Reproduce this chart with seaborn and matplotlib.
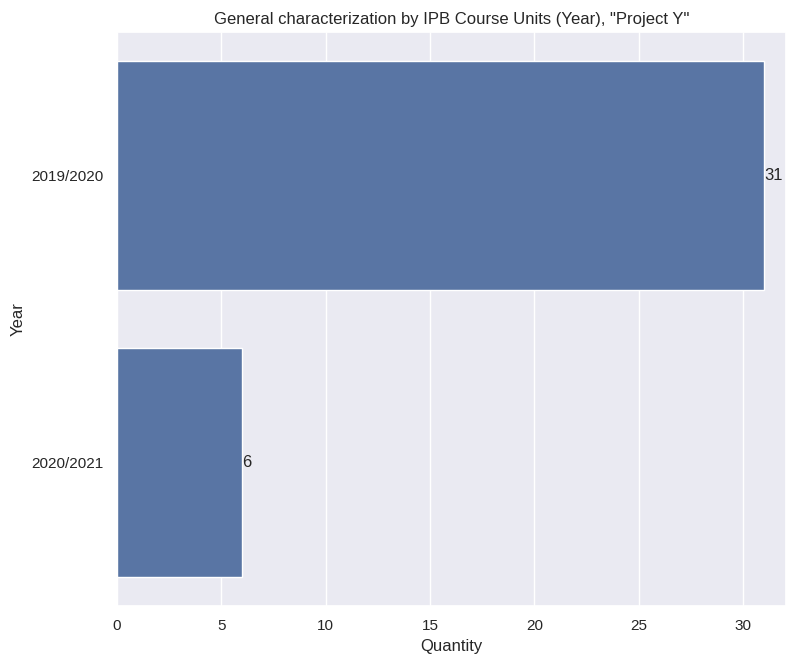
import matplotlib
matplotlib.use("Agg")
import matplotlib.pyplot as plt
import seaborn as sns
import pandas as pd

years = ["2019/2020", "2020/2021"]
quantities = [31, 6]

sns.set_theme()
plt.rcParams["font.family"] = ["Liberation Sans", "DejaVu Sans"]
df = pd.DataFrame({"Year": years, "Quantity": quantities})

fig = plt.figure(figsize=(7.86, 6.57), dpi=100)
ax = fig.add_axes([117/786, 1-606/657, (786-117)/786, (606-32)/657])
sns.barplot(data=df, x="Quantity", y="Year", color="#4c72b0", ax=ax)
for c in ax.containers:
    ax.bar_label(c)
ax.set_xlim(0, 32.05)
ax.set_title('General characterization by IPB Course Units (Year), "Project Y"')
fig.savefig("out.png", dpi=100)
